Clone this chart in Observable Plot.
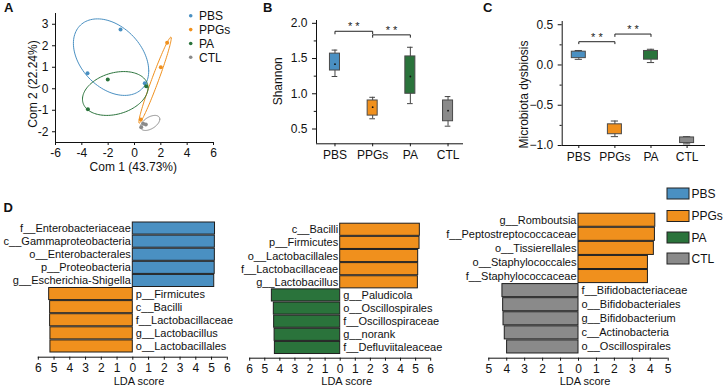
<!DOCTYPE html>
<html>
<head>
<meta charset="utf-8">
<script src="https://cdn.jsdelivr.net/npm/d3@7"></script>
<script src="https://cdn.jsdelivr.net/npm/@observablehq/plot@0.6"></script>
<style>
  body { margin: 0; background: #fff; }
  #fig { position: relative; width: 724px; height: 388px; overflow: hidden; font-family: "Liberation Sans", Arial, sans-serif; }
  #fig > svg { position: absolute; }
</style>
</head>
<body>
<div id="fig"></div>
<script>
// ---- shared groups and colours ----
const groups = ["PBS", "PPGs", "PA", "CTL"];
const palette = ["#4a90c2", "#f0901d", "#2a733b", "#8a8a8a"];

// ---- A: PCoA scores ----
const pcoGroup = ["PBS", "PBS", "PBS", "PPGs", "PPGs", "PPGs", "PA", "PA", "PA", "CTL", "CTL", "CTL"];
const pcoX = [-1.06, -3.57, 0.78, 2.48, 2.0, 0.48, -2.03, -3.54, 0.89, 0.66, 0.51, 0.86];
const pcoY = [2.76, 0.72, 0.26, 2.14, 1.0, -1.43, 0.43, -0.95, 0.12, -1.63, -1.79, -1.66];
// group ellipses: centre, half-extent along each axis, correlation (order of groups)
const ellCx = [-1.78, 1.56, -1.46, 1.19];
const ellCy = [1.47, 0.40, -0.22, -1.59];
const ellSx = [2.86, 1.23, 2.49, 0.73];
const ellSy = [1.78, 2.0, 1.02, 0.35];
const ellR = [-0.36, 0.975, 0.26, 0.5];
const ticksAX = [-6, -4, -2, 0, 2, 4, 6];
const ticksAY = [-2, -1, 0, 1, 2, 3];

// ---- B: Shannon index box summaries (order of groups) ----
const shannonMin = [1.245, 0.645, 0.86, 0.54];
const shannonQ1 = [1.33, 0.69, 1.0, 0.61];
const shannonQ3 = [1.57, 0.905, 1.53, 0.905];
const shannonMax = [1.62, 0.95, 1.66, 0.96];
const shannonMean = [1.42, 0.81, 1.245, 0.76];
const ticksBY = [0.5, 1.0, 1.5, 2.0];
const minorBY = [0.75, 1.25, 1.75];

// ---- C: microbiota dysbiosis box summaries ----
const dysMin = [0.07, -0.89, 0.03, -0.98];
const dysQ1 = [0.085, -0.86, 0.066, -0.97];
const dysQ3 = [0.165, -0.737, 0.174, -0.90];
const dysMax = [0.18, -0.696, 0.195, -0.89];
const ticksCY = [-1.0, -0.5, 0.0, 0.5];
const minorCY = [-0.75, -0.25, 0.25];

// significance brackets: pair, bar level, drop, star level
const sigB = [
  {a: "PBS", b: "PPGs", y: 1.887, drop: 0.037, starY: 1.95, label: "* *"},
  {a: "PPGs", b: "PA", y: 1.836, drop: 0.034, starY: 1.90, label: "* *"}
];
const sigC = [
  {a: "PBS", b: "PPGs", y: 0.289, drop: 0.025, starY: 0.34, label: "* *"},
  {a: "PPGs", b: "PA", y: 0.384, drop: 0.03, starY: 0.44, label: "* *"}
];

// ---- D: LEfSe LDA scores ----
const ldaATaxa = ["f__Enterobacteriaceae", "c__Gammaproteobacteria", "o__Enterobacterales", "p__Proteobacteria", "g__Escherichia-Shigella",
  "p__Firmicutes", "c__Bacilli", "f__Lactobacillaceae", "g__Lactobacillus", "o__Lactobacillales"];
const ldaAScore = [5.22, 5.21, 5.21, 5.20, 5.17, 5.31, 5.25, 5.25, 5.23, 5.23];
const ldaAGroup = ["PBS", "PBS", "PBS", "PBS", "PBS", "PPGs", "PPGs", "PPGs", "PPGs", "PPGs"];

const ldaBTaxa = ["c__Bacilli", "p__Firmicutes", "o__Lactobacillales", "f__Lactobacillaceae", "g__Lactobacillus",
  "g__Paludicola", "o__Oscillospirales", "f__Oscillospiraceae", "g__norank", "f__Defluviitaleaceae"];
const ldaBScore = [5.28, 5.26, 5.17, 5.17, 5.15, 4.53, 4.40, 4.38, 4.35, 4.33];
const ldaBGroup = ["PPGs", "PPGs", "PPGs", "PPGs", "PPGs", "PA", "PA", "PA", "PA", "PA"];

const ldaCTaxa = ["g__Romboutsia", "f__Peptostreptococcaceae", "o__Tissierellales", "o__Staphylococcales", "f__Staphylococcaceae",
  "f__Bifidobacteriaceae", "o__Bifidobacteriales", "g__Bifidobacterium", "c__Actinobacteria", "o__Oscillospirales"];
const ldaCScore = [4.28, 4.26, 4.20, 3.87, 3.87, 4.24, 4.20, 4.18, 4.11, 3.98];
const ldaCGroup = ["PPGs", "PPGs", "PPGs", "PPGs", "PPGs", "CTL", "CTL", "CTL", "CTL", "CTL"];

// ---------------------------------------------------------------
const fig = document.getElementById("fig");
const FONT = '"Liberation Sans", Arial, sans-serif';
const baseStyle = {background: "transparent", overflow: "visible", fontFamily: FONT, fontSize: "12px", color: "#111"};
const colorScale = {domain: groups, range: palette};
const fmt = d => String(d);

function place(svg, left, top) {
  svg.style.position = "absolute";
  svg.style.left = left + "px";
  svg.style.top = top + "px";
  fig.appendChild(svg);
}

// ---- A ----
const pcoData = pcoX.map((x, i) => ({x, y: pcoY[i], group: pcoGroup[i]}));
const ellData = groups.flatMap((g, k) => d3.range(0, 121).map(j => {
  const t = j / 120 * 2 * Math.PI;
  return {
    group: g,
    x: ellCx[k] + ellSx[k] * Math.cos(t),
    y: ellCy[k] + ellSy[k] * (ellR[k] * Math.cos(t) + Math.sqrt(1 - ellR[k] ** 2) * Math.sin(t))
  };
}));

place(Plot.plot({
  width: 230, height: 180, marginLeft: 55, marginRight: 17, marginTop: 13, marginBottom: 38,
  style: baseStyle,
  x: {domain: [-6, 6], ticks: ticksAX, tickSize: 3, tickPadding: 3, tickFormat: fmt, label: null},
  y: {domain: [-2.5, 3.5], ticks: ticksAY, tickSize: 3, tickPadding: 4, tickFormat: fmt, label: null},
  color: colorScale,
  marks: [
    Plot.ruleX([-6], {stroke: "#111"}),
    Plot.ruleY([-2.5], {stroke: "#111"}),
    Plot.line(ellData, {x: "x", y: "y", z: "group", stroke: "group", strokeWidth: 1}),
    Plot.dot(pcoData, {x: "x", y: "y", fill: "group", r: 2})
  ]
}), 0, 0);

// ---- box panels (B, C) ----
function boxPanel({lo, q1, q3, hi, mean, sig, yDomain, yTicks, yMinor, tickFormat, left, width, height,
                   mL, mR, mT, mB, xDomain, boxHalf, capHalf, minorLen}) {
  const rows = groups.map((g, k) => ({i: k + 1, group: g, lo: lo[k], q1: q1[k], q3: q3[k], hi: hi[k], mean: mean ? mean[k] : null}));
  const pos = g => groups.indexOf(g) + 1;
  const bracketPts = sig.flatMap((s, k) => [
    {k, x: pos(s.a), y: s.y - s.drop}, {k, x: pos(s.a), y: s.y},
    {k, x: pos(s.b), y: s.y}, {k, x: pos(s.b), y: s.y - s.drop}
  ]);
  const marks = [
    Plot.ruleX([xDomain[0]], {stroke: "#111"}),
    Plot.ruleY([yDomain[0]], {stroke: "#111"}),
    Plot.ruleY(yMinor, {y: d => d, x1: xDomain[0] - minorLen, x2: xDomain[0], stroke: "#111"}),
    Plot.ruleX(rows, {x: "i", y1: "lo", y2: "hi", stroke: "#444"}),
    Plot.ruleY(rows, {y: "hi", x1: d => d.i - capHalf, x2: d => d.i + capHalf, stroke: "#444"}),
    Plot.ruleY(rows, {y: "lo", x1: d => d.i - capHalf, x2: d => d.i + capHalf, stroke: "#444"}),
    Plot.rect(rows, {x1: d => d.i - boxHalf, x2: d => d.i + boxHalf, y1: "q1", y2: "q3", fill: "group", stroke: "#4a4a4a", strokeWidth: 1}),
    Plot.line(bracketPts, {x: "x", y: "y", z: "k", stroke: "#222", strokeWidth: 1}),
    Plot.text(sig, {x: d => (pos(d.a) + pos(d.b)) / 2, y: "starY", text: "label", fontSize: 11, fill: "#222"})
  ];
  if (mean) marks.push(Plot.dot(rows, {x: "i", y: "mean", r: 0.9, fill: "#111"}));
  place(Plot.plot({
    width, height, marginLeft: mL, marginRight: mR, marginTop: mT, marginBottom: mB,
    style: baseStyle,
    x: {domain: xDomain, ticks: [1, 2, 3, 4], tickFormat: i => groups[i - 1], tickSize: 3, tickPadding: 4, label: null},
    y: {domain: yDomain, ticks: yTicks, tickFormat, tickSize: 4, tickPadding: 5, label: null},
    color: colorScale,
    marks
  }), left, 0);
}

boxPanel({
  lo: shannonMin, q1: shannonQ1, q3: shannonQ3, hi: shannonMax, mean: shannonMean, sig: sigB,
  yDomain: [0.29, 2.04], yTicks: ticksBY, yMinor: minorBY, tickFormat: d3.format(".1f"),
  left: 230, width: 240, height: 175, mL: 86, mR: 7, mT: 20, mB: 31.7,
  xDomain: [0.51, 4.41], boxHalf: 0.133, capHalf: 0.075, minorLen: 0.06
});

boxPanel({
  lo: dysMin, q1: dysQ1, q3: dysQ3, hi: dysMax, mean: null, sig: sigC,
  yDomain: [-1.0, 0.54], yTicks: ticksCY, yMinor: minorCY, tickFormat: d3.format(".1f"),
  left: 470, width: 250, height: 175, mL: 91.7, mR: 15, mT: 21, mB: 30,
  xDomain: [0.54, 4.51], boxHalf: 0.194, capHalf: 0.1, minorLen: 0.06
});

// ---- D: LDA bar panels ----
function ldaPanel({taxa, scores, grp, left, top, width, height, mL, mR, mT, mB, maxAbs, yMax}) {
  const first = grp[0];
  const rows = taxa.map((t, i) => ({i, taxon: t, group: grp[i], v: grp[i] === first ? scores[i] : -scores[i]}));
  place(Plot.plot({
    width, height, marginLeft: mL, marginRight: mR, marginTop: mT, marginBottom: mB,
    style: baseStyle,
    x: {domain: [-maxAbs, maxAbs], ticks: d3.range(-maxAbs, maxAbs + 1), tickFormat: d => String(Math.abs(d)),
        tickSize: 3, tickPadding: 3, label: null},
    y: {domain: [-0.5, yMax], reverse: true, axis: null},
    color: colorScale,
    marks: [
      Plot.ruleY([yMax], {stroke: "#111"}),
      Plot.rect(rows, {x1: 0, x2: "v", y1: d => d.i - 0.5, y2: d => d.i + 0.5, fill: "group",
                       stroke: "#1e1e1e", strokeWidth: 1, insetTop: 0.5, insetBottom: 0.5}),
      Plot.text(rows.filter(d => d.v > 0), {x: 0, y: "i", text: "taxon", textAnchor: "end", dx: -2, fontSize: 11, fill: "#111"}),
      Plot.text(rows.filter(d => d.v < 0), {x: 0, y: "i", text: "taxon", textAnchor: "start", dx: 3, fontSize: 11, fill: "#111"})
    ]
  }), left, top);
}

ldaPanel({taxa: ldaATaxa, scores: ldaAScore, grp: ldaAGroup, left: 0, top: 190, width: 240, height: 198,
          mL: 37.8, mR: 13.2, mT: 31.5, mB: 31.3, maxAbs: 6, yMax: 9.82});
ldaPanel({taxa: ldaBTaxa, scores: ldaBScore, grp: ldaBGroup, left: 220, top: 190, width: 250, height: 198,
          mL: 29.2, mR: 39.8, mT: 32.7, mB: 30.3, maxAbs: 6, yMax: 9.78});
ldaPanel({taxa: ldaCTaxa, scores: ldaCScore, grp: ldaCGroup, left: 470, top: 190, width: 240, height: 198,
          mL: 18.3, mR: 42.3, mT: 22.7, mB: 30.3, maxAbs: 5, yMax: 9.8});

// ---- titles, panel letters and legends ----
const over = d3.select(fig).append("svg")
  .attr("width", 724).attr("height", 388)
  .style("left", "0px").style("top", "0px").style("pointer-events", "none")
  .attr("font-family", FONT).attr("fill", "#111");

const letters = [["A", 4, 11.7], ["B", 263, 11.7], ["C", 483, 11.7], ["D", 3.5, 211.7]];
over.selectAll("text.letter").data(letters).join("text")
  .attr("x", d => d[1]).attr("y", d => d[2]).attr("font-size", 13).attr("font-weight", "bold").text(d => d[0]);

over.append("text").attr("x", 133.3).attr("y", 170.7).attr("text-anchor", "middle").attr("font-size", 12).text("Com 1 (43.73%)");
const rotTitles = [["Com 2 (22.24%)", 36.7, 84], ["Shannon", 281.7, 81.3], ["Microbiota dysbiosis", 528, 94.5]];
over.selectAll("text.rot").data(rotTitles).join("text")
  .attr("transform", d => `translate(${d[1]},${d[2]}) rotate(-90)`)
  .attr("text-anchor", "middle").attr("font-size", 12).text(d => d[0]);

const ldaTitles = [139, 346.7, 585];
over.selectAll("text.lda").data(ldaTitles).join("text")
  .attr("x", d => d).attr("y", 385.3).attr("text-anchor", "middle").attr("font-size", 11).text("LDA score");

// legend for A (dots)
const legA = [15.7, 29.6, 43.5, 57.3];
groups.forEach((g, k) => {
  over.append("circle").attr("cx", 190.7).attr("cy", legA[k]).attr("r", 1.8).attr("fill", palette[k]);
  over.append("text").attr("x", 199).attr("y", legA[k] + 4.2).attr("font-size", 12).text(g);
});
// legend for D (boxes)
const legD = [193.5, 216, 237.5, 258.5];
groups.forEach((g, k) => {
  over.append("rect").attr("x", 667).attr("y", legD[k] - 5.5).attr("width", 22).attr("height", 11)
    .attr("fill", palette[k]).attr("stroke", "#222").attr("stroke-width", 1);
  over.append("text").attr("x", 691.5).attr("y", legD[k] + 4.2).attr("font-size", 12).text(g);
});
</script>
</body>
</html>
